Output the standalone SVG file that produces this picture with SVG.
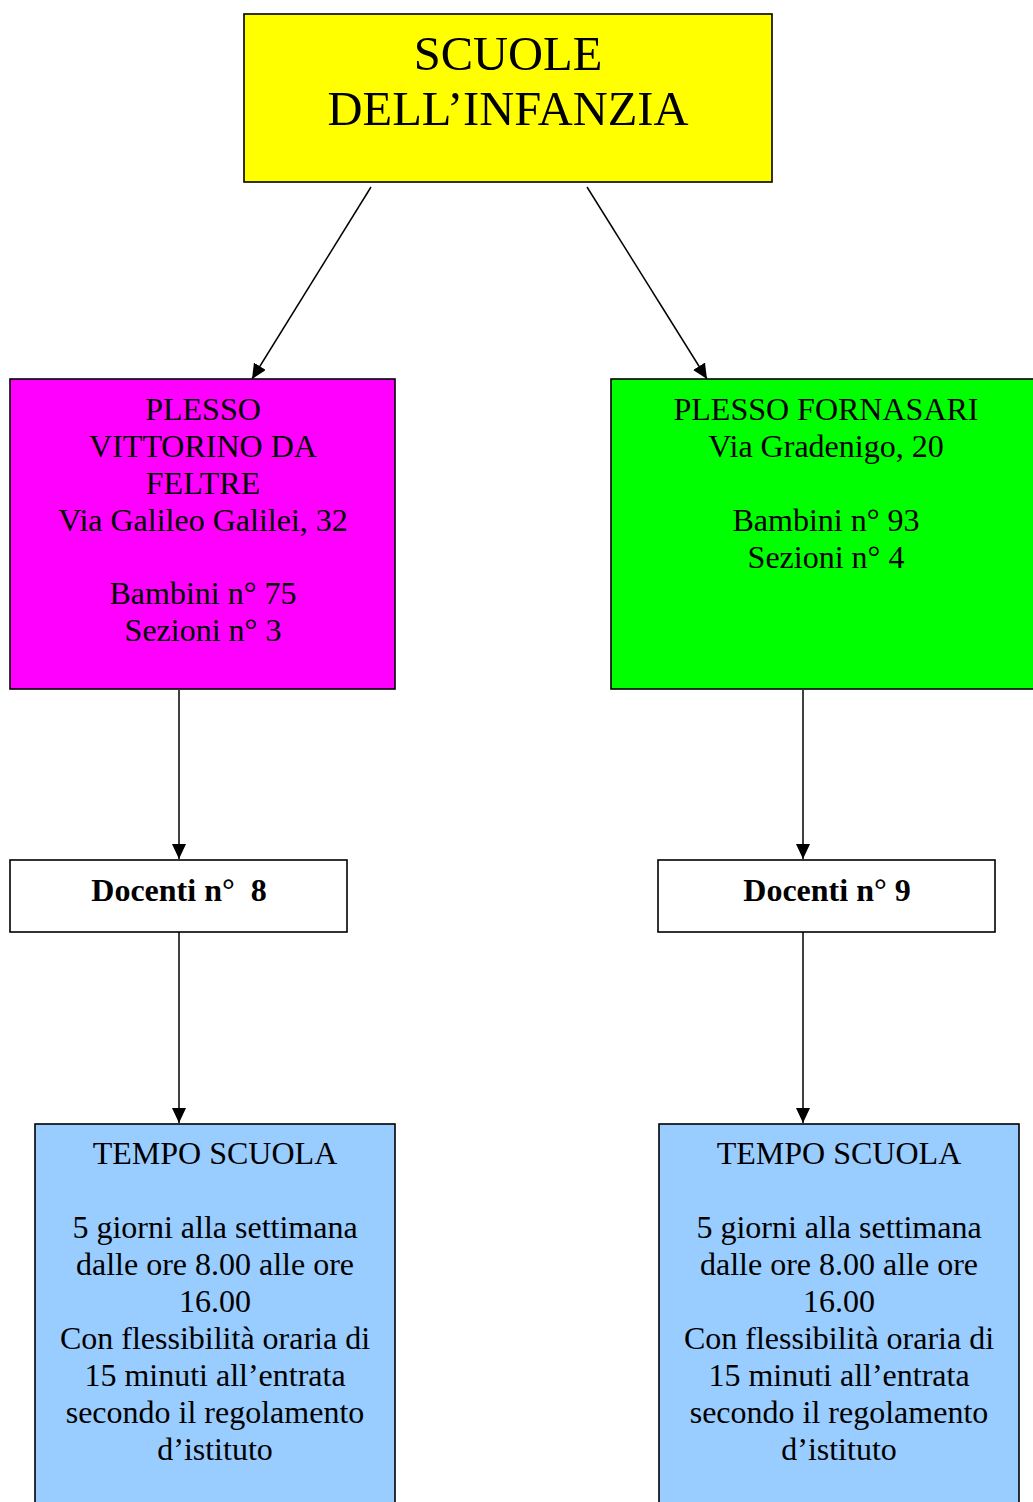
<svg xmlns="http://www.w3.org/2000/svg" width="1033" height="1502" viewBox="0 0 1033 1502">
<style>
  .box { stroke: #000; stroke-width: 1.6; }
  .t { font-family: "Liberation Serif", "Times New Roman", serif; font-size: 32px; fill: #000; text-anchor: middle; }
  .b { font-weight: bold; }
  .title { font-size: 48.5px; }
  .c { stroke: #000; stroke-width: 1.5; fill: none; marker-end: url(#arr); }
</style>
<defs>
  <marker id="arr" markerUnits="userSpaceOnUse" markerWidth="16" markerHeight="14" refX="15" refY="7" orient="auto">
    <path d="M0,0 L15,7 L0,14 Z" fill="#000"/>
  </marker>
</defs>
<rect width="1033" height="1502" fill="#fff"/>
<g id="connectors">
  <line class="c" x1="371" y1="187" x2="252" y2="379"/>
  <line class="c" x1="587" y1="187" x2="707" y2="379"/>
  <line class="c" x1="179" y1="690" x2="179" y2="859"/>
  <line class="c" x1="803" y1="690" x2="803" y2="859"/>
  <line class="c" x1="179" y1="932" x2="179" y2="1123"/>
  <line class="c" x1="803" y1="932" x2="803" y2="1123"/>
</g>
<g id="scuole">
  <rect class="box" x="244" y="14" width="528" height="168" fill="#ffff00"/>
  <text class="t title" x="508" y="70">SCUOLE</text>
  <text class="t title" x="508" y="125">DELL’INFANZIA</text>
</g>
<g id="vittorino">
  <rect class="box" x="10" y="379" width="385" height="310" fill="#ff00ff"/>
  <text class="t" x="203" y="420">PLESSO</text>
  <text class="t" x="203" y="457">VITTORINO DA</text>
  <text class="t" x="203" y="494">FELTRE</text>
  <text class="t" x="203" y="531">Via Galileo Galilei, 32</text>
  <text class="t" x="203" y="604">Bambini n° 75</text>
  <text class="t" x="203" y="641">Sezioni n° 3</text>
</g>
<g id="fornasari">
  <rect class="box" x="611" y="379" width="430" height="310" fill="#00ff00"/>
  <text class="t" x="826" y="420">PLESSO FORNASARI</text>
  <text class="t" x="826" y="457">Via Gradenigo, 20</text>
  <text class="t" x="826" y="531">Bambini n° 93</text>
  <text class="t" x="826" y="568">Sezioni n° 4</text>
</g>
<g id="docenti1">
  <rect class="box" x="10" y="860" width="337" height="72" fill="#fff"/>
  <text class="t b" x="179" y="901" xml:space="preserve">Docenti n°  8</text>
</g>
<g id="docenti2">
  <rect class="box" x="658" y="860" width="337" height="72" fill="#fff"/>
  <text class="t b" x="827" y="901">Docenti n° 9</text>
</g>
<g id="tempo1">
  <rect class="box" x="35" y="1124" width="360" height="400" fill="#99ccff"/>
  <text class="t" x="215" y="1164">TEMPO SCUOLA</text>
  <text class="t" x="215" y="1238">5 giorni alla settimana</text>
  <text class="t" x="215" y="1275">dalle ore 8.00 alle ore</text>
  <text class="t" x="215" y="1312">16.00</text>
  <text class="t" x="215" y="1349">Con flessibilità oraria di</text>
  <text class="t" x="215" y="1386">15 minuti all’entrata</text>
  <text class="t" x="215" y="1423">secondo il regolamento</text>
  <text class="t" x="215" y="1460">d’istituto</text>
</g>
<g id="tempo2">
  <rect class="box" x="659" y="1124" width="360" height="400" fill="#99ccff"/>
  <text class="t" x="839" y="1164">TEMPO SCUOLA</text>
  <text class="t" x="839" y="1238">5 giorni alla settimana</text>
  <text class="t" x="839" y="1275">dalle ore 8.00 alle ore</text>
  <text class="t" x="839" y="1312">16.00</text>
  <text class="t" x="839" y="1349">Con flessibilità oraria di</text>
  <text class="t" x="839" y="1386">15 minuti all’entrata</text>
  <text class="t" x="839" y="1423">secondo il regolamento</text>
  <text class="t" x="839" y="1460">d’istituto</text>
</g>
</svg>
